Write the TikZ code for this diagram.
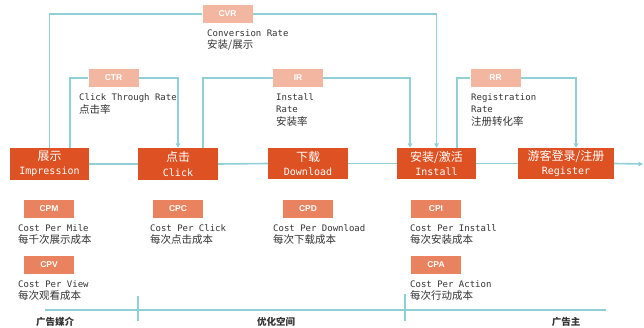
\documentclass[tikz,border=0pt]{standalone}
\usepackage{fontspec}
\setmainfont{Liberation Sans}
\newfontfamily\cjk{Noto Sans CJK SC}
\newfontfamily\mono{DejaVu Sans Mono}
\usetikzlibrary{arrows.meta}
\definecolor{darkbox}{HTML}{DD5122}
\definecolor{lightbox}{HTML}{F3B7A1}
\definecolor{midbox}{HTML}{E9835F}
\definecolor{teal}{HTML}{8FD0D6}
\definecolor{txt}{HTML}{333333}
\tikzset{
  mainbox/.style={fill=darkbox, draw=none, text=white, minimum height=32pt, inner sep=0pt, align=center, font=\mono\fontsize{10}{14.5}\selectfont},
  ratebox/.style={fill=lightbox, draw=none, text=white, minimum width=50pt, minimum height=18.5pt, inner sep=0pt, font=\bfseries\fontsize{8.5}{9}\selectfont},
  costbox/.style={fill=midbox, draw=none, text=white, minimum width=50pt, minimum height=18pt, inner sep=0pt, font=\bfseries\fontsize{8.5}{9}\selectfont},
  link/.style={draw=teal, line width=1.6pt},
  arr/.style={link, -{Triangle[length=4.5pt,width=4.5pt]}},
  desc/.style={anchor=north west, align=left, inner sep=0pt, text=txt, font=\mono\fontsize{9}{12.6}\selectfont},
  axislabel/.style={text=txt, inner sep=0pt, font=\cjk\bfseries\fontsize{9.5}{10}\selectfont},
}
\newcommand{\zh}[1]{{\cjk\fontsize{10.5}{12.6}\selectfont #1}}
\newcommand{\zhbig}[1]{{\cjk\fontsize{12}{14.5}\selectfont #1}}
\begin{document}
\begin{tikzpicture}[x=1pt,y=-1pt]
\useasboundingbox (0,0) rectangle (644,327);
% main boxes
\node[mainbox, minimum width=79pt] (imp) at (49.5,164) {\zhbig{展示}\\Impression};
\node[mainbox, minimum width=80pt] (clk) at (178,164) {\zhbig{点击}\\Click};
\node[mainbox, minimum width=80pt, minimum height=31pt] (dl) at (308,163.5) {\zhbig{下载}\\Download};
\node[mainbox, minimum width=79pt, minimum height=31pt] (ins) at (436.5,163.5) {\zhbig{安装/激活}\\Install};
\node[mainbox, minimum width=96pt, minimum height=31pt] (reg) at (566,163.5) {\zhbig{游客登录/注册}\\Register};
\coordinate (out) at (643,164);
% rate boxes
\node[ratebox] (cvr) at (227.5,14) {CVR};
\node[ratebox] (ctr) at (113.5,78) {CTR};
\node[ratebox] (ir) at (298,78) {IR};
\node[ratebox] (rr) at (495.5,78) {RR};
% chain
\draw[link] (imp.east) -- (clk.west);
\draw[link] (clk.east) -- (dl.west);
\draw[link] (dl.east) -- (ins.west);
\draw[link] (ins.east) -- (reg.west);
\draw[arr] (reg.east) -- (out);
% loops
\draw[link] (imp.north) |- (cvr.west);
\draw[arr] (cvr.east) -| (ins.north);
\draw[link] ([xshift=20.5pt]imp.north) |- (ctr.west);
\draw[arr] (ctr.east) -| (clk.north);
\draw[link] ([xshift=25pt]clk.north) |- (ir.west);
\draw[arr] (ir.east) -| ([xshift=-26.5pt]ins.north);
\draw[link] ([xshift=20.5pt]ins.north) |- (rr.west);
\draw[arr] (rr.east) -| ([xshift=10pt]reg.north);
% rate descriptions
\node[desc] (cvrt) at (207,29) {Conversion Rate\\\zh{安装/展示}};
\node[desc] (ctrt) at (79,93.5) {Click Through Rate\\\zh{点击率}};
\node[desc] (irt) at (276,93) {Install\\Rate\\\zh{安装率}};
\node[desc] (rrt) at (471,93) {Registration\\Rate\\\zh{注册转化率}};
% cost boxes
\node[costbox] (cpm) at (49,209) {CPM};
\node[costbox] (cpv) at (49,265) {CPV};
\node[costbox] (cpc) at (178,209) {CPC};
\node[costbox] (cpd) at (308,209) {CPD};
\node[costbox] (cpi) at (436,209) {CPI};
\node[costbox] (cpa) at (436,265) {CPA};
\node[desc] (cpmt) at (18,224) {Cost Per Mile\\\zh{每千次展示成本}};
\node[desc] (cpvt) at (18,280) {Cost Per View\\\zh{每次观看成本}};
\node[desc] (cpct) at (150,224) {Cost Per Click\\\zh{每次点击成本}};
\node[desc] (cpdt) at (273,224) {Cost Per Download\\\zh{每次下载成本}};
\node[desc] (cpit) at (410,224) {Cost Per Install\\\zh{每次安装成本}};
\node[desc] (cpat) at (410,280) {Cost Per Action\\\zh{每次行动成本}};
% axis
\coordinate (axl) at (45,310);
\coordinate (axr) at (606,310);
\coordinate (t1a) at (138,296);
\coordinate (t1b) at (138,321);
\coordinate (t2a) at (405,294);
\coordinate (t2b) at (405,321);
\draw[link] (axl) -- (axr);
\draw[link] (t1a) -- (t1b);
\draw[link] (t2a) -- (t2b);
\node[axislabel] (l1) at (55,322) {广告媒介};
\node[axislabel] (l2) at (276,322) {优化空间};
\node[axislabel] (l3) at (566,322) {广告主};
\end{tikzpicture}
\end{document}
